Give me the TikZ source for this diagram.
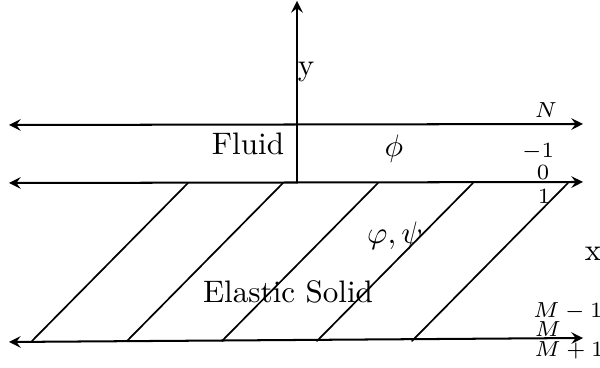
\documentclass[tikz,border=0pt]{standalone}
\usetikzlibrary{arrows}
\begin{document}
\begin{tikzpicture}[x=0.0113cm, y=-0.0113cm, line join=round, line cap=round, >=stealth, line width=0.65pt]
				\useasboundingbox (0,0) rectangle (600,368);
				\tikzset{idx/.style={font=\scriptsize, inner sep=0pt}}
				% axis and grid lines
				\coordinate (O) at (297,183);
				\coordinate (Ytop) at (297,1);
				\coordinate (NL) at (9,125);  \coordinate (NR) at (583,124);
				\coordinate (ZL) at (9,183);  \coordinate (ZR) at (583,182);
				\coordinate (ML) at (9,342);  \coordinate (MR) at (583,338);
				\draw[->] (O) -- (Ytop);
				\draw[<->] (NL) -- (NR);
				\draw[<->] (ZL) -- (ZR);
				\draw[<->] (ML) -- (MR);
				% hatching of the solid
				\foreach \i in {0,...,4} {
					\coordinate (b\i) at ({32+95*\i},341);
					\coordinate (t\i) at ({188+95*\i},183);
					\draw[line width=0.55pt] (b\i) -- (t\i);
				}
				% labels
				\node[inner sep=0pt] (ylab) at (306,72) {y};
				\node[inner sep=0pt] (xlab) at (593,254) {x};
				\node[anchor=base, inner sep=0pt] (fluid) at (248,155) {Fluid};
				\node[inner sep=0pt] (phi) at (394,149) {$\phi$};
				\node[inner sep=0pt] (pp) at (395,236) {$\varphi,\psi$};
				\node[anchor=base, inner sep=0pt] (solid) at (288,303) {Elastic Solid};
				\node[idx] (n) at (546,110) {$N$};
				\node[idx] (m1) at (538,152) {$-1$};
				\node[idx] (z) at (543,172) {$0$};
				\node[idx] (p1) at (544,196) {$1$};
				\node[idx] (Mm) at (568,311) {$M-1$};
				\node[idx] (M) at (548,329.5) {$M$};
				\node[idx] (Mp) at (569,350) {$M+1$};
			\end{tikzpicture}
\end{document}
